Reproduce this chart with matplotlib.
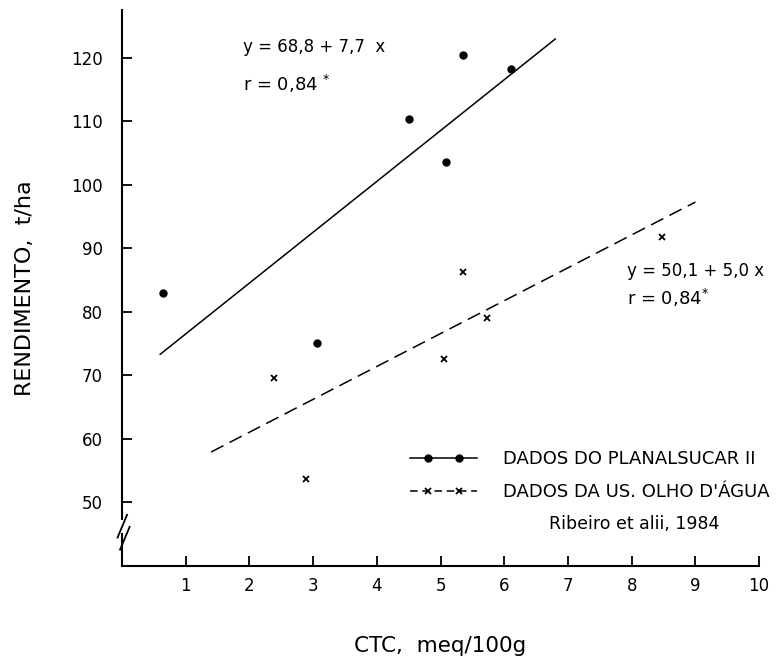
import numpy as np
import matplotlib
matplotlib.use("Agg")
import matplotlib.pyplot as plt
from matplotlib.lines import Line2D
from matplotlib.legend_handler import HandlerLine2DCompound

# Dados do Planalsucar II (pontos)
ctc_plan = [0.64, 3.06, 4.50, 5.09, 5.36, 6.11]
rend_plan = [82.9, 75.1, 110.4, 103.6, 120.5, 118.3]

# Dados da US. Olho d'Agua (x)
ctc_olho = [2.38, 2.89, 5.06, 5.36, 5.73, 8.47]
rend_olho = [69.5, 53.7, 72.5, 86.2, 79.0, 91.8]

# retas de regressao (extremos)
reta_plan_x = [0.6, 6.8]
reta_plan_y = [73.3, 123.0]
reta_olho_x = [1.4, 9.0]
reta_olho_y = [57.9, 97.3]

xticks = [1, 2, 3, 4, 5, 6, 7, 8, 9, 10]
yticks = [50, 60, 70, 80, 90, 100, 110, 120]


class HandlerLinhaCheia(HandlerLine2DCompound):
    # linha em toda a largura, marcadores recuados
    def get_xdata(self, legend, xdescent, ydescent, width, height, fontsize):
        xd = np.array([-xdescent, -xdescent + width])
        pad = 1.0 * fontsize
        xm = np.linspace(-xdescent + pad, -xdescent + width - pad, 2)
        return xd, xm


plt.rcParams['font.family'] = ['DejaVu Sans']
plt.rcParams['mathtext.fontset'] = 'dejavusans'
fs = 12

fig = plt.figure(figsize=(7.77, 6.56), dpi=100)
ax = fig.add_axes([0.157, 0.137, 0.820, 0.848])

ax.plot(reta_plan_x, reta_plan_y, color='black', lw=1.1)
ax.plot(reta_olho_x, reta_olho_y, color='black', lw=1.1, dashes=(9, 4.5))
ax.plot(ctc_plan, rend_plan, 'o', color='black', ms=5)
ax.plot(ctc_olho, rend_olho, 'x', color='black', ms=5, mew=1.3)

ax.set_xlim(0, 10)
ax.set_ylim(39.9, 127.6)
ax.set_xticks(xticks)
ax.set_yticks(yticks)
ax.tick_params(direction='in', length=7, width=1.3, labelsize=fs)
ax.tick_params(axis='x', pad=8)
ax.tick_params(axis='y', pad=14)

for s in ['top', 'right', 'left']:
    ax.spines[s].set_visible(False)
ax.spines['bottom'].set_linewidth(1.5)

# eixo y com quebra
tr = ax.get_yaxis_transform()
ax.plot([0, 0], [47.3, 127.6], color='black', lw=1.5, transform=tr, clip_on=False)
ax.plot([0, 0], [39.9, 45.0], color='black', lw=1.5, transform=tr, clip_on=False)
ax.plot([-0.007, 0.008], [44.4, 48.0], color='black', lw=1.3, transform=tr, clip_on=False)
ax.plot([-0.003, 0.012], [42.5, 46.1], color='black', lw=1.3, transform=tr, clip_on=False)

ax.set_xlabel('CTC,  meq/100g', fontsize=15.5, labelpad=29)
ax.set_ylabel('RENDIMENTO,  t/ha', fontsize=16, labelpad=26)

ax.text(1.9, 121.7, 'y = 68,8 + 7,7  x', fontsize=fs, va='center')
ax.text(1.9, 115.9, r'r = 0,84 $^{*}$', fontsize=fs + 1, va='center')
ax.text(7.93, 86.4, 'y = 50,1 + 5,0 x', fontsize=fs, va='center')
ax.text(7.93, 82.2, r'r = 0,84$^{*}$', fontsize=fs + 1, va='center')

h1 = Line2D([], [], color='black', lw=1.1, marker='o', ms=5)
h2 = Line2D([], [], color='black', lw=1.1, dashes=(5, 3), marker='x', ms=5, mew=1.3)
leg_fs = 13
ax.legend([h1, h2], ['DADOS DO PLANALSUCAR II', "DADOS DA US. OLHO D'ÁGUA"],
          loc='upper left', bbox_to_anchor=(0.452, 0.208), frameon=False,
          fontsize=leg_fs, handlelength=67 / (leg_fs * 100 / 72),
          handletextpad=26 / (leg_fs * 100 / 72), labelspacing=0.8,
          borderpad=0, borderaxespad=0,
          handler_map={Line2D: HandlerLinhaCheia()})
ax.text(8.04, 46.6, 'Ribeiro et alii, 1984', fontsize=fs + 0.5, ha='center', va='center')

fig.savefig('out.png', dpi=100)
